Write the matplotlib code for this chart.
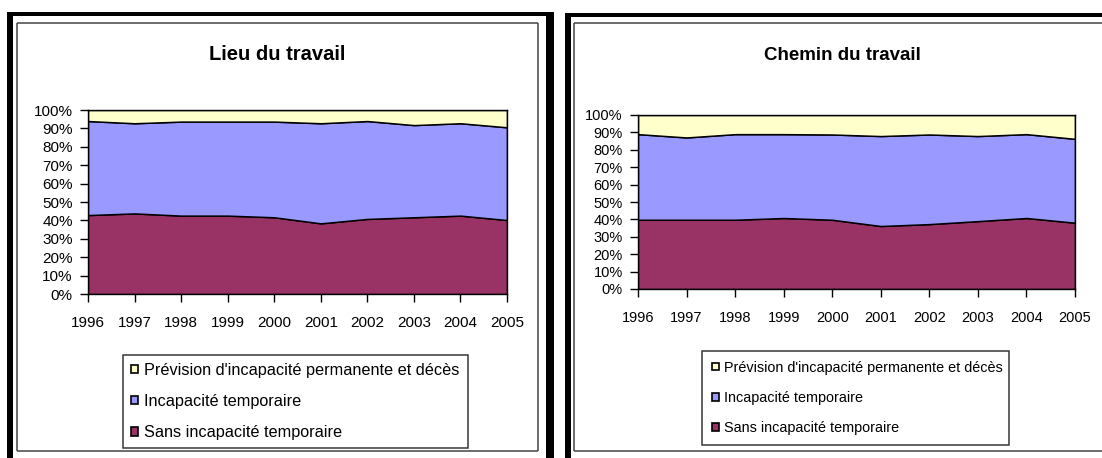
import matplotlib
matplotlib.use('Agg')
import matplotlib.pyplot as plt
from matplotlib.lines import Line2D
from matplotlib.patches import Patch

"""
Data read off the two charts (percent of accidents per year)
"""
years = [1996, 1997, 1998, 1999, 2000, 2001, 2002, 2003, 2004, 2005]
year_labels = [str(y) for y in years]
pct_ticks = [0, 10, 20, 30, 40, 50, 60, 70, 80, 90, 100]
pct_labels = [str(p) + '%' for p in pct_ticks]

series_names = ['Sans incapacité temporaire',
                'Incapacité temporaire',
                "Prévision d'incapacité permanente et décès"]
series_colors = ['#993366', '#9999FF', '#FFFFCC']

#Lieu du travail
lieu_sans = [42.9, 43.8, 42.6, 42.6, 41.7, 38.4, 40.8, 41.7, 42.6, 40.2]
lieu_temp = [51.1, 49.0, 51.1, 51.1, 52.0, 54.4, 53.2, 50.1, 50.2, 50.4]
lieu_prev = [6.0, 7.2, 6.3, 6.3, 6.3, 7.2, 6.0, 8.2, 7.2, 9.4]

#Chemin du travail
chemin_sans = [39.8, 39.8, 39.8, 40.8, 39.8, 36.2, 37.3, 39.0, 40.8, 38.1]
chemin_temp = [49.2, 47.3, 49.2, 48.2, 49.0, 51.7, 51.5, 48.9, 48.2, 48.2]
chemin_prev = [11.0, 12.9, 11.0, 11.0, 11.2, 12.1, 11.2, 12.1, 11.0, 13.7]

"""
Figure in pixel units
"""
W, H = 1102, 458
fig = plt.figure(figsize=(W / 100, H / 100), dpi=100)
fig.patch.set_facecolor('white')

def fx(x):
    return x / W

def fy(y):
    return 1 - y / H

def pt(p):
    return p * 72 / 100

def hline(x0, x1, y, w, c='black'):
    fig.add_artist(Line2D([fx(x0), fx(x1)], [fy(y), fy(y)], transform=fig.transFigure,
                          lw=pt(w), color=c, solid_capstyle='butt'))

def vline(x, y0, y1, w, c='black'):
    fig.add_artist(Line2D([fx(x), fx(x)], [fy(y0), fy(y1)], transform=fig.transFigure,
                          lw=pt(w), color=c, solid_capstyle='butt'))

#panel borders
hline(7, 554, 14, 4)
vline(10, 12, 460, 6)
vline(550, 12, 460, 8)
hline(17, 538, 23, 1.5, '#404040')
hline(17, 538, 451, 1.5, '#404040')
vline(17, 23, 451, 1.5, '#404040')
vline(538, 23, 451, 1.5, '#404040')

hline(565, 1104, 15, 4)
vline(568, 13, 460, 6)
hline(574, 1104, 23, 1.5, '#404040')
hline(574, 1104, 451, 1.5, '#404040')
vline(574, 23, 451, 1.5, '#404040')

"""
Chart settings per panel
"""
left_font = ['Liberation Sans', 'DejaVu Sans']
right_font = ['Liberation Sans', 'DejaVu Sans']

panels = [
    dict(title='Lieu du travail', data=[lieu_sans, lieu_temp, lieu_prev],
         box=(88, 110, 507, 294), title_xy=(277, 55), font=left_font,
         tick_size=11, title_size=14.5, leg_size=11.7, leg_xy=(123, 355, 468),
         leg_space=1.0, leg_pad=0.5),
    dict(title='Chemin du travail', data=[chemin_sans, chemin_temp, chemin_prev],
         box=(638, 115, 1075, 289), title_xy=(842, 56), font=right_font,
         tick_size=10.5, title_size=13.5, leg_size=10.4, leg_xy=(702, 351, 1009),
         leg_space=1.12, leg_pad=0.7),
]

for p in panels:
    x0, y0, x1, y1 = p['box']
    ax = fig.add_axes([fx(x0), fy(y1), (x1 - x0) / W, (y1 - y0) / H])
    ax.stackplot(years, p['data'], colors=series_colors, edgecolor='black', linewidth=pt(1.5))
    ax.set_xlim(years[0], years[-1])
    ax.set_ylim(0, 100)
    ax.set_xticks(years)
    ax.set_xticklabels(year_labels, family=p['font'], fontsize=p['tick_size'])
    ax.set_yticks(pct_ticks)
    ax.set_yticklabels(pct_labels, family=p['font'], fontsize=p['tick_size'])
    ax.tick_params(axis='x', direction='out', length=6, width=1, pad=10)
    ax.tick_params(axis='y', direction='out', length=6, width=1, pad=5)
    for s in ax.spines.values():
        s.set_color('black')
        s.set_linewidth(1)

    fig.text(fx(p['title_xy'][0]), fy(p['title_xy'][1]), p['title'], ha='center', va='center',
             family=p['font'], fontsize=p['title_size'], fontweight='bold')

    handles = [Patch(facecolor=series_colors[i], edgecolor='black', linewidth=1.2,
                     label=series_names[i]) for i in [2, 1, 0]]
    lx0, ly0, lx1 = p['leg_xy']
    leg = fig.legend(handles=handles, loc='upper left',
                     bbox_to_anchor=(fx(lx0), fy(ly0), (lx1 - lx0) / W, 0.001),
                     bbox_transform=fig.transFigure, mode='expand', borderaxespad=0,
                     prop={'family': p['font'], 'size': p['leg_size']},
                     handlelength=0.45, handleheight=0.45, handletextpad=0.35,
                     labelspacing=p['leg_space'], borderpad=p['leg_pad'],
                     fancybox=False, frameon=True)
    leg.get_frame().set_edgecolor('black')
    leg.get_frame().set_linewidth(pt(1.5))

fig.savefig('out.png', dpi=100)
